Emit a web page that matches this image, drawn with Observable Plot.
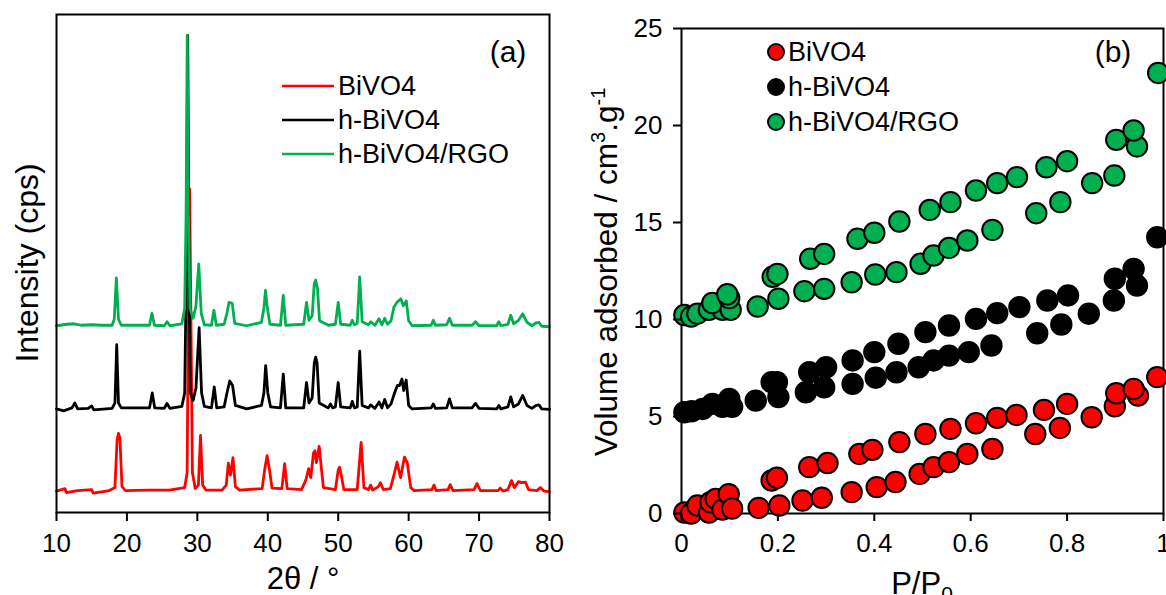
<!DOCTYPE html>
<html>
<head>
<meta charset="utf-8">
<script src="https://cdn.jsdelivr.net/npm/d3@7"></script>
<script src="https://cdn.jsdelivr.net/npm/@observablehq/plot@0.6"></script>
<style>
  html, body { margin: 0; padding: 0; background: #fff; }
  #wrap { position: relative; width: 1166px; height: 595px; overflow: hidden; font-family: "Liberation Sans", Arial, sans-serif; }
  #wrap > svg, #wrap > div { position: absolute; top: 0; }
</style>
</head>
<body>
<div id="wrap"></div>
<script>
// ---------- Panel (a): XRD patterns, [2θ (°), intensity (a.u., offset)] ----------
const xrdSeries = ["BiVO4", "h-BiVO4", "h-BiVO4/RGO"];
const xrdColors = ["#FF0000", "#000000", "#00B050"];
const xrdTicks = [10, 20, 30, 40, 50, 60, 70, 80];

const xrdBiVO4 = [
  [10,4.3],[11.2,4.8],[11.4,4.0],[13,4.4],[15,4.6],[15.2,3.9],[17.5,4.4],[18.3,5.0],[18.6,14.5],[18.8,15.9],[19.0,15.0],[19.3,5.2],[19.8,4.4],
  [23,4.5],[26,4.5],[28.2,5.0],[28.55,8],[28.72,40],[28.9,65],[29.08,40],[29.3,8],[29.7,4.8],[30.15,5.5],[30.45,15.5],[30.75,5.5],[31.2,4.5],
  [33.5,4.5],[34.1,5.5],[34.4,9.9],[34.7,7.5],[35.05,11],[35.4,5.2],[36,4.5],[39.2,4.8],[39.6,9],[39.9,11.4],[40.2,9],[40.6,4.9],
  [42.0,4.8],[42.4,9.8],[42.75,4.8],[44.8,4.6],[45.4,6.5],[45.8,8.8],[46.1,7.0],[46.5,12],[46.7,12.4],[46.9,10],[47.3,13.3],[47.6,9],[47.9,5.0],
  [49.6,4.6],[50.0,8.5],[50.2,9.1],[50.5,7],[50.8,4.6],[52.7,4.6],[53.25,14.1],[53.65,5],[54.3,4.6],[54.6,5.5],[54.9,4.5],[55.7,5.2],[56.0,6.0],[56.4,4.6],
  [57.4,4.8],[58.0,8],[58.35,10.1],[58.85,7.0],[59.4,11.1],[59.8,10],[60.3,5],[60.8,4.4],[63.3,4.6],[63.6,5.5],[63.9,4.4],[65.6,4.6],[65.9,5.6],[66.3,4.4],
  [69.3,4.6],[69.7,5.8],[70.2,4.4],[72.7,4.4],[73.0,4.9],[73.4,4.3],[74.1,4.6],[74.6,6.4],[75.0,5.0],[75.6,6.2],[76.0,6.0],[76.6,6.1],[77.0,4.6],
  [78.2,4.4],[78.7,5.0],[79.2,4.3],[80,4.2]
];
const xrdHBiVO4 = [
  [10,20.8],[11,20.4],[12.2,21],[12.6,22],[13,20.8],[14.5,20.9],[15,21.4],[15.3,20.6],[17.9,20.9],[18.3,22],[18.55,33.7],[18.8,22],[19.2,21],
  [23.2,21],[23.6,24.0],[23.95,21],[25.3,20.9],[25.7,21.9],[26.1,20.9],[27.8,21.3],[28.2,24],[28.45,50],[28.63,95.8],[28.82,50],[29.0,24],[29.4,22.5],
  [29.8,25],[30.25,37.1],[30.6,24],[31.0,21.3],[32.0,21],[32.4,25.2],[32.75,21],[33.8,21.2],[34.2,24],[34.6,26.4],[35.0,25.5],[35.4,21.5],[37,20.8],
  [39.1,21.5],[39.45,24],[39.7,29.5],[40.0,24],[40.4,21.2],[41.8,21],[42.2,27.8],[42.55,21],[45.1,21],[45.5,26.1],[45.85,22],[46.3,23],[46.6,30],
  [46.8,31.2],[47.0,30],[47.3,22],[48.6,21],[48.9,21.8],[49.2,21],[49.6,21.2],[50.0,26.1],[50.35,21.2],[51.7,21],[52.0,22.3],[52.3,21],[52.7,21.2],
  [53.05,32.4],[53.4,21.5],[54.3,21],[54.6,21.6],[55.2,20.9],[55.8,22.2],[56.2,21],[56.6,22.7],[57.0,21],[57.5,21.8],[58.0,24],[58.4,25.5],[58.7,25.5],
  [59.05,26.8],[59.3,24.5],[59.65,26.6],[60.0,21.5],[60.5,20.8],[63.2,21],[63.5,21.8],[63.8,20.9],[65.4,21],[65.8,22.8],[66.2,21],[69.0,21],[69.5,21.9],
  [70.0,20.9],[72.5,20.8],[72.8,21.5],[73.1,20.8],[74.1,21.2],[74.5,23.2],[74.9,21.2],[75.6,21.8],[76.2,23.5],[76.8,21.5],[77.5,20.9],[78.1,21.5],
  [78.5,21.6],[78.9,20.8],[80,20.7]
];
const xrdHBiVO4RGO = [
  [10,37.5],[11.5,37.8],[12.5,37.9],[13.5,37.6],[15,37.7],[16.5,37.6],[17.9,37.6],[18.2,38.8],[18.5,47.1],[18.8,38.8],[19.2,37.6],[23.2,37.6],
  [23.55,40.0],[23.9,37.6],[25.3,37.5],[25.7,38.3],[26.1,37.5],[27.8,37.9],[28.2,41],[28.4,60],[28.56,95.8],[28.73,60],[28.95,41],[29.4,39],
  [29.8,41.5],[30.2,49.9],[30.55,40],[31.0,37.7],[32.0,37.6],[32.35,40.6],[32.7,37.6],[33.8,37.8],[34.2,40],[34.5,42.2],[34.95,42],[35.3,38],
  [37.0,37.5],[39.1,38.2],[39.45,41],[39.67,44.6],[39.95,41],[40.3,37.8],[41.8,37.6],[42.2,43.6],[42.55,37.6],[45.1,37.8],[45.5,42.2],[45.85,38.6],
  [46.3,39.5],[46.6,46],[46.8,46.7],[47.05,45],[47.35,38.5],[48.6,37.6],[49.6,37.8],[50.0,42.2],[50.35,37.8],[51.7,37.6],[52.0,38.6],[52.3,37.7],
  [52.7,38],[53.05,47.3],[53.4,38.3],[54.3,37.7],[54.6,38.3],[55.2,37.6],[55.8,38.9],[56.2,37.7],[56.6,39.0],[57.0,37.8],[57.5,38.5],[57.9,41.2],
  [58.4,42.3],[58.9,42.9],[59.25,41.5],[59.67,42.5],[60.0,38.5],[60.5,37.5],[63.2,37.6],[63.5,38.6],[63.8,37.6],[65.4,37.7],[65.8,39.0],[66.2,37.6],
  [69.0,37.6],[69.5,38.3],[70.0,37.5],[72.5,37.5],[72.8,38.3],[73.1,37.5],[74.1,37.8],[74.5,39.6],[74.9,37.9],[75.6,38.6],[76.2,39.9],[76.8,38.2],
  [77.5,37.5],[78.1,38.1],[78.5,38.2],[78.9,37.4],[80,37.3]
];

// ---------- Panel (b): N2 isotherms, [P/P0, volume adsorbed (cm3/g)] ----------
const betSeries = ["BiVO4", "h-BiVO4", "h-BiVO4/RGO"];
const betColors = ["#FF0000", "#000000", "#00B050"];
const betXTicks = [0, 0.2, 0.4, 0.6, 0.8, 1];
const betYTicks = [0, 5, 10, 15, 20, 25];

const betBiVO4 = [
  [0.006,0.05],[0.02,0.0],[0.033,0.41],[0.057,0.05],[0.06,0.58],[0.071,0.75],[0.085,0.2],[0.098,1.0],[0.105,0.26],
  [0.16,0.29],[0.203,0.41],[0.187,1.7],[0.198,1.84],[0.251,0.67],[0.291,0.81],[0.265,2.39],[0.303,2.6],[0.353,1.1],
  [0.369,3.07],[0.396,3.28],[0.405,1.36],[0.452,3.68],[0.444,1.62],[0.494,2.04],[0.523,2.39],[0.555,2.65],[0.593,3.07],
  [0.645,3.33],[0.506,4.1],[0.558,4.36],[0.611,4.65],[0.655,4.93],[0.695,5.08],[0.752,5.34],[0.80,5.65],[0.734,4.1],
  [0.785,4.41],[0.851,4.96],[0.899,5.53],[0.947,6.08],[0.902,6.2],[0.938,6.42],[0.987,7.03]
];
const betHBiVO4 = [
  [0.006,5.22],[0.021,5.27],[0.044,5.39],[0.064,5.65],[0.085,5.5],[0.099,5.9],[0.105,5.5],[0.154,5.82],[0.187,6.77],
  [0.198,6.77],[0.201,6.0],[0.258,6.25],[0.265,7.28],[0.296,6.5],[0.30,7.54],[0.355,6.68],[0.355,7.89],[0.40,8.32],
  [0.403,7.0],[0.45,8.75],[0.446,7.28],[0.506,9.35],[0.555,9.69],[0.611,10.03],[0.655,10.33],[0.701,10.64],[0.759,10.98],
  [0.802,11.24],[0.492,7.54],[0.523,7.89],[0.555,8.14],[0.596,8.32],[0.643,8.66],[0.738,9.29],[0.788,9.74],[0.845,10.3],
  [0.897,10.98],[0.945,11.75],[0.899,12.1],[0.938,12.61],[0.987,14.24]
];
const betHBiVO4RGO = [
  [0.006,10.23],[0.02,10.15],[0.033,10.3],[0.057,10.5],[0.085,10.5],[0.064,10.85],[0.102,10.5],[0.099,11.1],[0.095,11.3],
  [0.158,10.67],[0.201,11.07],[0.189,12.2],[0.199,12.35],[0.255,11.46],[0.296,11.58],[0.267,13.13],[0.296,13.38],
  [0.353,11.92],[0.365,14.16],[0.40,14.47],[0.402,12.32],[0.452,15.05],[0.446,12.44],[0.496,12.87],[0.523,13.3],
  [0.555,13.69],[0.593,14.07],[0.645,14.62],[0.515,15.65],[0.558,16.05],[0.611,16.65],[0.655,17.03],[0.696,17.34],
  [0.757,17.85],[0.80,18.16],[0.736,15.48],[0.786,16.05],[0.852,17.03],[0.898,17.42],[0.945,18.92],[0.902,19.26],
  [0.938,19.74],[0.989,22.71]
];

const FONT = '"Liberation Sans", Arial, sans-serif';
const wrap = document.getElementById("wrap");

// ---------- Plot (a) ----------
const xrdData = [xrdBiVO4, xrdHBiVO4, xrdHBiVO4RGO];
const plotA = Plot.plot({
  width: 580, height: 595,
  marginLeft: 56, marginRight: 31, marginTop: 14, marginBottom: 83,
  style: {fontFamily: FONT, fontSize: "26px", color: "#000", background: "transparent", overflow: "visible"},
  x: {domain: [10, 80]},
  y: {domain: [0, 100], axis: null},
  marks: [
    ...xrdData.map((pts, i) => Plot.line(pts, {x: d => d[0], y: d => d[1], stroke: xrdColors[i], strokeWidth: 2.8})),
    Plot.frame({stroke: "#000", strokeWidth: 2}),
    Plot.axisX({ticks: xrdTicks, tickSize: 9, tickPadding: 12, strokeWidth: 2, fontSize: 26, label: null, tickFormat: d => String(d)})
  ]
});
plotA.style.left = "0px";
wrap.appendChild(plotA);

// ---------- Plot (b) ----------
const betData = [betBiVO4, betHBiVO4, betHBiVO4RGO];
const plotB = Plot.plot({
  width: 586, height: 595,
  marginLeft: 101, marginRight: 3, marginTop: 28, marginBottom: 82,
  style: {fontFamily: FONT, fontSize: "26px", color: "#000", background: "transparent", overflow: "visible"},
  x: {domain: [0, 1]},
  y: {domain: [0, 25]},
  marks: [
    Plot.frame({stroke: "#000", strokeWidth: 2}),
    ...betData.map((pts, i) => Plot.dot(pts, {x: d => d[0], y: d => d[1], r: 10.2, fill: betColors[i], stroke: "#000", strokeWidth: 2})),
    Plot.axisX({ticks: betXTicks, tickSize: 8, tickPadding: 12, strokeWidth: 2, fontSize: 26, label: null, tickFormat: d => String(d)}),
    Plot.axisY({ticks: betYTicks, tickSize: 8, tickPadding: 11, strokeWidth: 2, fontSize: 26, label: null, tickFormat: d => String(d)})
  ]
});
plotB.style.left = "580px";
wrap.appendChild(plotB);

// ---------- Overlay: titles, legends, panel tags ----------
const ov = d3.select(wrap).append("svg")
  .attr("width", 1166).attr("height", 595)
  .style("left", "0px").style("pointer-events", "none")
  .attr("font-family", FONT).attr("fill", "#000");

// axis titles
ov.append("text").attr("transform", "translate(27,263) rotate(-90)")
  .attr("text-anchor", "middle").attr("dominant-baseline", "central")
  .attr("font-size", 32).text("Intensity (cps)");
ov.append("text").attr("x", 303).attr("y", 589).attr("text-anchor", "middle")
  .attr("font-size", 31).text("2θ / °");

const yt = ov.append("text").attr("transform", "translate(617,272) rotate(-90)")
  .attr("text-anchor", "middle").attr("font-size", 31.5);
yt.append("tspan").text("Volume adsorbed / cm");
yt.append("tspan").attr("font-size", 20).attr("dy", -12).text("3");
yt.append("tspan").attr("dy", 12).text(".g");
yt.append("tspan").attr("font-size", 20).attr("dy", -12).text("-1");

const xt = ov.append("text").attr("x", 922).attr("y", 594).attr("text-anchor", "middle").attr("font-size", 31);
xt.append("tspan").text("P/P");
xt.append("tspan").attr("font-size", 21).attr("dy", 7).text("0");

// panel tags
ov.append("text").attr("x", 508).attr("y", 62).attr("text-anchor", "middle").attr("font-size", 30).text("(a)");
ov.append("text").attr("x", 1113).attr("y", 62).attr("text-anchor", "middle").attr("font-size", 30).text("(b)");

// legend (a)
const legAY = [86, 120, 154];
xrdSeries.forEach((name, i) => {
  ov.append("line").attr("x1", 282).attr("x2", 334).attr("y1", legAY[i]).attr("y2", legAY[i])
    .attr("stroke", xrdColors[i]).attr("stroke-width", 2.6);
  ov.append("text").attr("x", 338).attr("y", legAY[i]).attr("dominant-baseline", "central")
    .attr("font-size", 27).text(name);
});

// legend (b)
const legBY = [52, 87, 122];
betSeries.forEach((name, i) => {
  ov.append("circle").attr("cx", 776).attr("cy", legBY[i]).attr("r", 8)
    .attr("fill", betColors[i]).attr("stroke", "#000").attr("stroke-width", 2);
  ov.append("text").attr("x", 788).attr("y", legBY[i]).attr("dominant-baseline", "central")
    .attr("font-size", 27).text(name);
});
</script>
</body>
</html>
